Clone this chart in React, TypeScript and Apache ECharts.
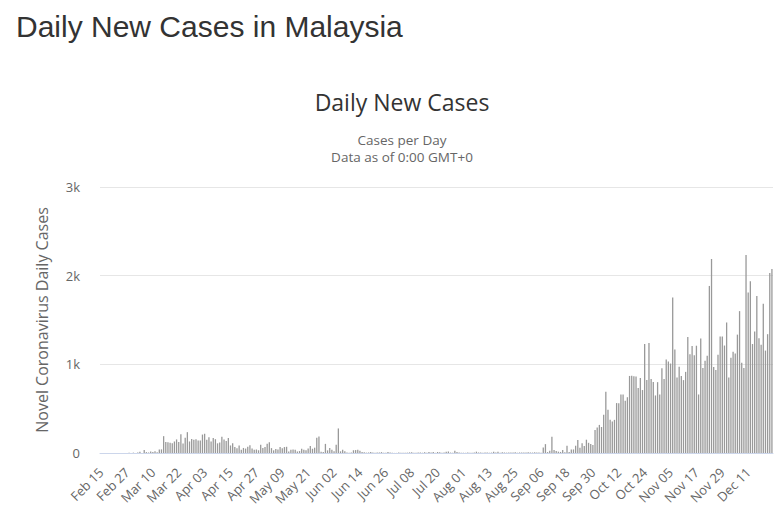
import React, { useEffect, useRef } from "react";
import * as echarts from "echarts";

const MONTH_NAMES = ["Jan", "Feb", "Mar", "Apr", "May", "Jun", "Jul", "Aug", "Sep", "Oct", "Nov", "Dec"];

// Daily new cases, Feb 15 – Dec 22, 2020
const feb = [0, 0, 0, 0, 0, 0, 0, 0, 0, 0, 0, 0, 1, 2, 0];
const mar = [4, 0, 7, 14, 0, 33, 10, 6, 18, 12, 20, 9, 39, 41, 190, 125, 120, 117, 110, 130, 153, 123, 212, 106, 172, 235, 130, 159, 150, 156, 140];
const apr = [142, 208, 217, 150, 179, 131, 170, 156, 109, 118, 184, 153, 134, 170, 85, 110, 69, 54, 84, 36, 57, 50, 71, 88, 51, 38, 40, 31, 94, 57];
const may = [69, 105, 122, 55, 30, 45, 39, 68, 54, 67, 70, 16, 37, 40, 36, 17, 22, 47, 37, 31, 50, 78, 48, 60, 172, 187, 15, 10, 103, 30, 57];
const jun = [38, 20, 93, 277, 19, 37, 19, 7, 2, 7, 31, 33, 36, 24, 10, 8, 4, 6, 10, 6, 3, 6, 5, 10, 4, 2, 10, 7, 3, 1];
const jul = [1, 7, 3, 3, 2, 4, 7, 8, 2, 4, 6, 5, 3, 9, 4, 10, 5, 10, 2, 11, 8, 3, 7, 15, 17, 5, 4, 25, 10, 7, 3];
const aug = [3, 2, 5, 4, 2, 7, 15, 6, 5, 4, 5, 7, 2, 5, 15, 5, 15, 3, 8, 6, 4, 7, 5, 6, 8, 3, 6, 7, 5, 6, 9];
const sep = [6, 5, 8, 5, 6, 3, 62, 100, 10, 25, 182, 35, 22, 15, 12, 35, 8, 82, 10, 40, 40, 82, 147, 60, 111, 80, 150, 115, 101, 89];
const oct = [260, 287, 317, 293, 432, 691, 489, 375, 354, 374, 563, 561, 660, 660, 589, 629, 869, 871, 865, 862, 732, 847, 710, 1228, 823, 1240, 835, 801, 649, 799, 659];
const nov = [957, 834, 1054, 1032, 1009, 1755, 1168, 852, 972, 869, 822, 915, 1309, 1114, 1208, 1103, 1210, 660, 1290, 960, 1041, 1096, 1884, 2188, 970, 935, 1109, 1315, 1315, 1212];
const dec = [1472, 851, 1075, 1141, 1123, 1335, 1600, 1018, 958, 2234, 1810, 1937, 1229, 1371, 1772, 1295, 1220, 1683, 1155, 1340, 2030, 2075];

const dailyCases = [...feb, ...mar, ...apr, ...may, ...jun, ...jul, ...aug, ...sep, ...oct, ...nov, ...dec];

const dateLabels: string[] = (() => {
  const out: string[] = [];
  const d = new Date(Date.UTC(2020, 1, 15));
  for (let i = 0; i < dailyCases.length; i++) {
    out.push(MONTH_NAMES[d.getUTCMonth()] + " " + String(d.getUTCDate()).padStart(2, "0"));
    d.setUTCDate(d.getUTCDate() + 1);
  }
  return out;
})();

const yTickLabels: Record<number, string> = { 0: "0", 1000: "1k", 2000: "2k", 3000: "3k" };

export default function App() {
  const ref = useRef<HTMLDivElement>(null);
  useEffect(() => {
    if (!ref.current) return;
    const chart = echarts.init(ref.current, undefined, { renderer: "svg" });
    const chartFont = "Open Sans";
    const subStyle = { fontFamily: chartFont, fontSize: 13.5, lineHeight: 16, fontWeight: "normal", color: "#666666" };
    chart.setOption({
      animation: false,
      backgroundColor: "#ffffff",
      title: [
        {
          text: "Daily New Cases in Malaysia",
          left: 11,
          top: 6,
          textStyle: { fontFamily: "Liberation Sans, Arial, sans-serif", fontSize: 30, fontWeight: "normal", color: "#333333" },
        },
        {
          text: "Daily New Cases",
          left: 397,
          textAlign: "center",
          top: 85,
          textStyle: { fontFamily: chartFont, fontSize: 23, fontWeight: "normal", color: "#333333" },
        },
        {
          text: "Cases per Day",
          left: 397,
          textAlign: "center",
          top: 127,
          textStyle: subStyle,
        },
        {
          text: "Data as of 0:00 GMT+0",
          left: 397,
          textAlign: "center",
          top: 144,
          textStyle: subStyle,
        },
      ],
      grid: { left: 100, right: 10, top: 187, bottom: 61, containLabel: false, outerBoundsMode: "none" },
      xAxis: {
        type: "category",
        data: dateLabels,
        boundaryGap: true,
        axisLine: { show: true, lineStyle: { color: "#ccd6eb", width: 1 } },
        axisTick: { show: false },
        axisLabel: { interval: 11, rotate: 45, color: "#666666", fontSize: 13, fontFamily: chartFont, margin: 17 },
        splitLine: { show: false },
      },
      yAxis: {
        type: "value",
        min: 0,
        max: 3000,
        interval: 1000,
        name: "Novel Coronavirus Daily Cases",
        nameLocation: "middle",
        nameRotate: 90,
        nameGap: 50,
        nameTextStyle: { fontFamily: chartFont, fontSize: 16, color: "#666666" },
        axisLine: { show: false },
        axisTick: { show: false },
        axisLabel: {
          formatter: (v: number) => yTickLabels[v] ?? String(v),
          color: "#666666",
          fontSize: 13,
          fontFamily: chartFont,
          margin: 20,
        },
        splitLine: { lineStyle: { color: "#e6e6e6", width: 1 } },
      },
      series: [
        {
          type: "bar",
          name: "Daily Cases",
          data: dailyCases,
          barWidth: "60%",
          itemStyle: { color: "#999999" },
        },
      ],
    });
    return () => chart.dispose();
  }, []);
  return <div ref={ref} style={{ position: "fixed", left: 0, top: 0, width: 783, height: 514 }} />;
}
